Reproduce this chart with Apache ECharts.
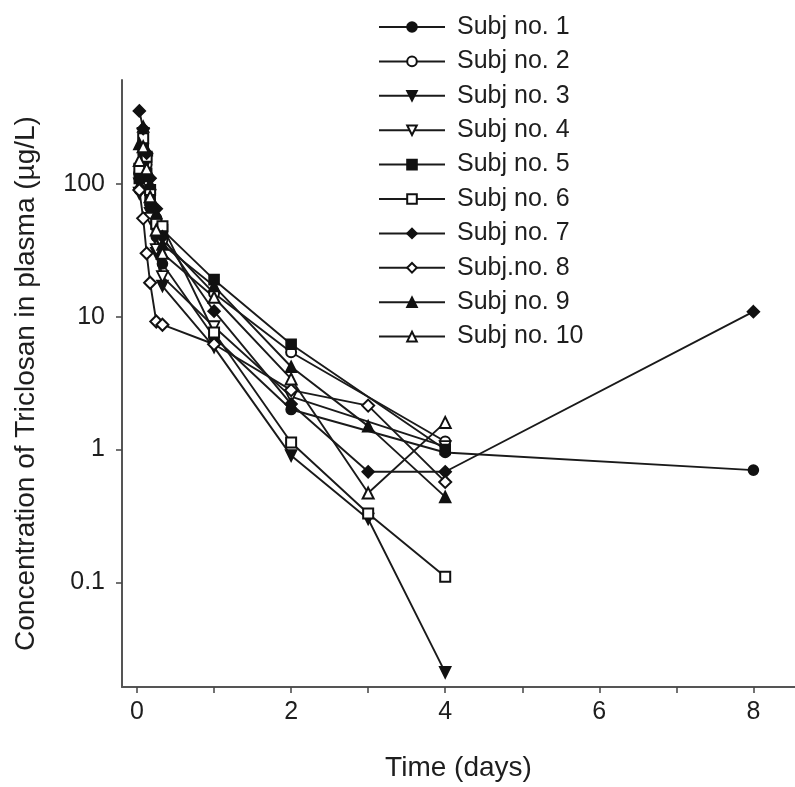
<!DOCTYPE html>
<html><head><meta charset="utf-8">
<script src="https://cdn.jsdelivr.net/npm/echarts@6/dist/echarts.min.js"></script>
<style>html,body{margin:0;padding:0;background:#fff}#c{width:795px;height:787px}</style>
</head><body><div id="c"></div>
<script>
// ---- data (days, µg/L) ----
const early = [0.03, 0.08, 0.125, 0.17, 0.25, 0.33];
const names = ['Subj no. 1','Subj no. 2','Subj no. 3','Subj no. 4','Subj no. 5','Subj no. 6','Subj no. 7','Subj.no. 8','Subj no. 9','Subj no. 10'];
const t1  = early.concat([1, 2, 4, 8]);
const v1  = [90, 150, 110, 70, 40, 25, 7.0, 2.0, 0.95, 0.7];
const t2  = early.concat([1, 2, 4]);
const v2  = [120, 200, 140, 85, 55, 38, 15, 5.4, 1.15];
const t3  = early.concat([1, 2, 3, 4]);
const v3  = [100, 240, 150, 60, 30, 17, 5.9, 0.9, 0.3, 0.021];
const t4  = early.concat([1, 2, 4]);
const v4  = [85, 130, 95, 55, 32, 20, 8.4, 2.5, 1.05];
const t5  = early.concat([1, 2, 4]);
const v5  = [110, 180, 120, 75, 50, 45, 19, 6.2, 1.0];
const t6  = early.concat([1, 2, 3, 4]);
const v6  = [130, 220, 160, 90, 50, 48, 7.6, 1.13, 0.33, 0.11];
const t7  = early.concat([1, 2, 3, 4, 8]);
const v7  = [354, 260, 170, 110, 65, 40, 11, 2.2, 0.68, 0.68, 10.9];
const t8  = early.concat([1, 2, 3, 4]);
const v8  = [90, 55, 30, 18, 9.2, 8.7, 6.2, 2.8, 2.14, 0.57];
const t9  = early.concat([1, 2, 3, 4]);
const v9  = [200, 270, 180, 100, 60, 35, 17, 4.2, 1.5, 0.44];
const t10 = early.concat([1, 2, 3, 4]);
const v10 = [150, 190, 130, 80, 45, 30, 14, 3.4, 0.47, 1.6];
const xTicks = [0, 1, 2, 3, 4, 5, 6, 7, 8];
const xLabels = [0, 2, 4, 6, 8];
const yTicks = [0.1, 1, 10, 100];
const yLabelText = {'0.1': '0.1', '1': '1', '10': '10', '100': '100'};

const times = [t1, t2, t3, t4, t5, t6, t7, t8, t9, t10];
const vals = [v1, v2, v3, v4, v5, v6, v7, v8, v9, v10];
const downTri = 'path://M0,0 L10,0 L5,9 Z';
const symbols = ['circle', 'emptyCircle', downTri, downTri, 'rect', 'emptyRect', 'diamond', 'emptyDiamond', 'triangle', 'emptyTriangle'];
const sizes = [10, 10, 11, 11, 10, 10, 12, 12, 11, 11];
const FONT = '"Liberation Sans", Arial, sans-serif';

const series = names.map(function (n, i) {
  const open = (i === 3);
  return {
    name: n,
    type: 'line',
    data: times[i].map(function (t, k) { return [t, vals[i][k]]; }),
    symbol: symbols[i],
    symbolSize: sizes[i],
    showAllSymbol: true,
    lineStyle: { color: '#1a1a1a', width: 1.9 },
    itemStyle: open ? { color: '#fff', borderColor: '#111', borderWidth: 1.8 } : { color: '#111', borderColor: '#111', borderWidth: 1.6 },
    emphasis: { disabled: true },
    animation: false
  };
});

const chart = echarts.init(document.getElementById('c'));
chart.setOption({
  animation: false,
  backgroundColor: '#fff',
  grid: { left: 122, right: 0, top: 80, bottom: 99, containLabel: false },
  legend: {
    orient: 'vertical',
    left: 373,
    top: 9,
    itemWidth: 66,
    itemHeight: 12,
    itemGap: 8.4,
    data: names,
    textStyle: { fontFamily: FONT, fontSize: 25, color: '#1e1e1e', lineHeight: 26, padding: [0, 0, 0, 7] }
  },
  xAxis: {
    type: 'value',
    min: -0.195,
    max: 8.54,
    name: 'Time (days)',
    nameLocation: 'middle',
    nameGap: 67,
    nameTextStyle: { fontFamily: FONT, fontSize: 28, color: '#1e1e1e' },
    axisLine: { show: true, onZero: false, lineStyle: { color: '#555', width: 2 } },
    axisTick: { show: true, inside: false, length: 6, customValues: xTicks, lineStyle: { color: '#444', width: 1.5 } },
    axisLabel: { show: true, margin: 13, customValues: xLabels, fontFamily: FONT, fontSize: 25, color: '#1e1e1e',
      formatter: function (v) { return String(Math.round(v)); } },
    splitLine: { show: false }
  },
  yAxis: {
    type: 'log',
    logBase: 10,
    min: 0.0163,
    max: 605,
    name: 'Concentration of Triclosan in plasma (µg/L)',
    nameLocation: 'middle',
    nameGap: 82,
    nameTextStyle: { fontFamily: FONT, fontSize: 28, color: '#1e1e1e' },
    axisLine: { show: true, onZero: false, lineStyle: { color: '#555', width: 2 } },
    axisTick: { show: true, inside: false, length: 6, customValues: yTicks, lineStyle: { color: '#444', width: 1.5 } },
    axisLabel: { show: true, margin: 17, customValues: yTicks, fontFamily: FONT, fontSize: 25, color: '#1e1e1e',
      formatter: function (v) {
        const k = String(parseFloat(Number(v).toPrecision(3)));
        return yLabelText[k] !== undefined ? yLabelText[k] : '';
      } },
    splitLine: { show: false },
    minorTick: { show: false }
  },
  series: series
});
</script>
</body></html>
